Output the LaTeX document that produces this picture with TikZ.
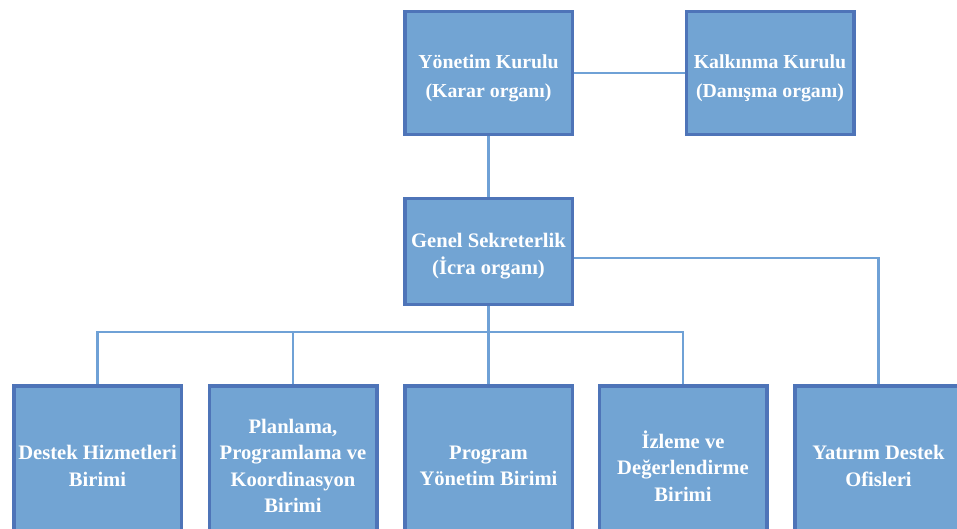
\documentclass[tikz,border=0pt]{standalone}
\usepackage{fontspec}
\setmainfont{Liberation Serif}
\definecolor{boxfill}{HTML}{72A4D3}
\definecolor{boxedge}{HTML}{4E74B8}
\definecolor{linkblue}{HTML}{6FA1D6}
% two-line caption, set a little below the box centre
\newcommand{\twoline}[2]{\raisebox{-9.5pt}[0pt][0pt]{\begin{tabular}{@{}c@{}}#1\\#2\end{tabular}}}
\begin{document}
\begin{tikzpicture}[x=1pt,y=-1pt,
  unit/.style={draw=boxedge, line width=3.5pt, fill=boxfill, align=center,
    text=white, minimum width=167.5pt, inner sep=0pt},
  topunit/.style={unit, minimum height=123pt,
    font=\bfseries\fontsize{19.8}{28.3}\selectfont},
  midunit/.style={unit, minimum height=106pt,
    font=\bfseries\fontsize{20.6}{27.3}\selectfont},
  lowunit/.style={unit, minimum height=160pt,
    font=\bfseries\fontsize{20.6}{26.3}\selectfont},
  link/.style={draw=linkblue, line width=2.6pt}]
\useasboundingbox (0,0) rectangle (957,529);
\clip (0,0) rectangle (957,529);

\coordinate (bus) at (488.5,332);
\coordinate (side) at (574,258);
\coordinate (ykc) at (488.5,73);
\coordinate (kkc) at (770,73);
\coordinate (gsc) at (488.5,251.5);

% governing bodies
\node[topunit] (yk) at (ykc) {\twoline{Yönetim Kurulu}{(Karar organı)}};
\node[topunit] (kk) at (kkc) {\twoline{Kalkınma Kurulu}{(Danışma organı)}};
\node[midunit] (gs) at (gsc) {\twoline{Genel Sekreterlik}{(İcra organı)}};

% units
\node[lowunit] (dh) at (97.5,466) {Destek Hizmetleri\\Birimi};
\node[lowunit] (pp) at (293,466) {Planlama,\\Programlama ve\\Koordinasyon\\Birimi};
\node[lowunit] (py) at (488.5,466) {Program\\Yönetim Birimi};
\node[lowunit] (id) at (683,466) {İzleme ve\\Değerlendirme\\Birimi};
\node[lowunit] (yd) at (878.5,466) {Yatırım Destek\\Ofisleri};

% connectors
\path[link] (yk.east) -- (kk.west);
\path[link] (yk.south) -- (gs.north);
\path[link] (side) -| (yd.north);
\path[link] (gs.south) -- (bus);
\path[link] (bus) -| (dh.north);
\path[link] (bus) -| (pp.north);
\path[link] (bus) -- (py.north);
\path[link] (bus) -| (id.north);
\end{tikzpicture}
\end{document}
